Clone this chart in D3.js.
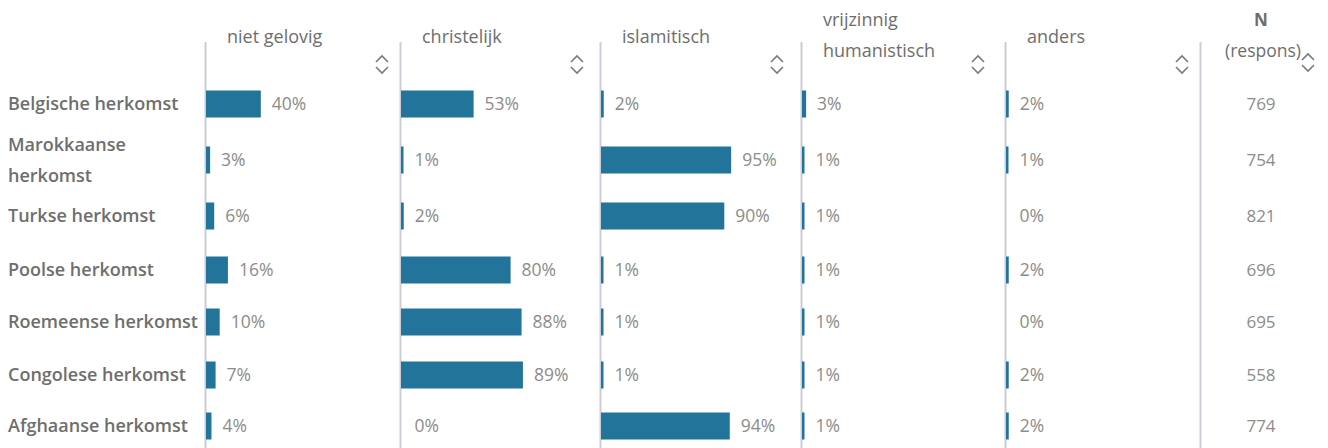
<!DOCTYPE html>
<html>
<head>
<meta charset="utf-8">
<script src="https://cdn.jsdelivr.net/npm/d3@7"></script>
<style>
    body { margin: 0; background: #fff; }
    svg text { font-family: "Open Sans", "Noto Sans", sans-serif; }
</style>
</head>
<body>
<div id="chart"></div>
<script>
// rows (herkomst)
var categories = ["Belgische herkomst", "Marokkaanse herkomst", "Turkse herkomst", "Poolse herkomst",
    "Roemeense herkomst", "Congolese herkomst", "Afghaanse herkomst"];

// columns (levensbeschouwing)
var columns = ["niet gelovig", "christelijk", "islamitisch", "vrijzinnig humanistisch", "anders"];

// percentages per column, same order as categories
var nietGelovig = [40, 3, 6, 16, 10, 7, 4];
var christelijk = [53, 1, 2, 80, 88, 89, 0];
var islamitisch = [2, 95, 90, 1, 1, 1, 94];
var vrijzinnig = [3, 1, 1, 1, 1, 1, 1];
var anders = [2, 1, 0, 2, 0, 2, 2];
var nRespons = [769, 754, 821, 696, 695, 558, 774];

var series = [nietGelovig, christelijk, islamitisch, vrijzinnig, anders];

var width = 1328, height = 448;
var barColor = "#23749a";
var lineColor = "#c9cdd5";
var labelColor = "#6e6e6e";
var valueColor = "#8c8c8c";

var svg = d3.select("#chart").append("svg")
    .attr("width", width)
    .attr("height", height);

// column positions (table cells are not perfectly even)
var colScale = d3.scaleOrdinal()
    .domain(columns.concat(["N"]))
    .range([205, 400, 600, 801, 1005, 1200]);

// row positions (Marokkaanse row is two lines high)
var y = d3.scaleOrdinal()
    .domain(categories)
    .range([104, 160, 216, 270, 322, 375, 426]);

// bar length
var x = d3.scaleLinear().domain([0, 100]).range([0, 137]);

var barHeight = 27;

// separator lines
svg.selectAll("line.sep")
    .data(colScale.domain())
    .enter()
    .append("line")
    .attr("class", "sep")
    .attr("x1", function (d) { return colScale(d) + 0.5; })
    .attr("x2", function (d) { return colScale(d) + 0.5; })
    .attr("y1", 42)
    .attr("y2", height)
    .attr("stroke", lineColor)
    .attr("stroke-width", 2);

// headers
var headerLines = {
    "niet gelovig": [["niet gelovig", 37]],
    "christelijk": [["christelijk", 37]],
    "islamitisch": [["islamitisch", 37]],
    "vrijzinnig humanistisch": [["vrijzinnig", 20], ["humanistisch", 51]],
    "anders": [["anders", 37]]
};

columns.forEach(function (c) {
    headerLines[c].forEach(function (l) {
        svg.append("text")
            .attr("x", colScale(c) + 22)
            .attr("y", l[1])
            .attr("dy", "0.35em")
            .attr("font-size", 18)
            .attr("fill", labelColor)
            .text(l[0]);
    });
});

svg.append("text")
    .attr("x", colScale("N") + 61)
    .attr("y", 20)
    .attr("dy", "0.35em")
    .attr("text-anchor", "middle")
    .attr("font-size", 17)
    .attr("font-weight", 700)
    .attr("fill", labelColor)
    .text("N");

svg.append("text")
    .attr("x", colScale("N") + 63)
    .attr("y", 51)
    .attr("dy", "0.35em")
    .attr("text-anchor", "middle")
    .attr("font-size", 17.5)
    .attr("fill", labelColor)
    .text("(respons)");

// sort icons
function sortIcon(cx, cy) {
    var g = svg.append("g").attr("transform", "translate(" + cx + "," + cy + ")");
    g.append("path")
        .attr("d", "M-6,-1 L0,-7 L6,-1")
        .attr("fill", "none")
        .attr("stroke", "#7a7a7a")
        .attr("stroke-width", 1.6);
    g.append("path")
        .attr("d", "M-6,4 L0,10 L6,4")
        .attr("fill", "none")
        .attr("stroke", "#7a7a7a")
        .attr("stroke-width", 1.6);
}

columns.forEach(function (c) {
    sortIcon(colScale(c) + 177, 63);
});
sortIcon(colScale("N") + 108, 61);

// row labels
categories.forEach(function (cat) {
    var t = svg.append("text")
        .attr("x", 8)
        .attr("font-size", 18)
        .attr("font-weight", 600)
        .attr("fill", labelColor);
    if (cat === "Marokkaanse herkomst") {
        t.append("tspan").attr("x", 8).attr("y", y(cat) - 15).attr("dy", "0.35em").text("Marokkaanse");
        t.append("tspan").attr("x", 8).attr("y", y(cat) + 16).attr("dy", "0.35em").text("herkomst");
    } else {
        t.attr("y", y(cat)).attr("dy", "0.35em").text(cat);
    }
});

// bars + labels per column
columns.forEach(function (c, ci) {
    var x0 = colScale(c) + 1;
    var data = series[ci].map(function (v, i) { return { cat: categories[i], value: v }; });
    var g = svg.append("g").attr("transform", "translate(" + x0 + ",0)");

    g.selectAll("rect")
        .data(data.filter(function (d) { return d.value > 0; }))
        .enter()
        .append("rect")
        .attr("x", 0)
        .attr("y", function (d) { return y(d.cat) - barHeight / 2; })
        .attr("width", function (d) { return Math.max(x(d.value), 2.5); })
        .attr("height", barHeight)
        .attr("fill", barColor);

    g.selectAll("text")
        .data(data)
        .enter()
        .append("text")
        .attr("x", function (d) { return Math.max(x(d.value), 2.5) + 11; })
        .attr("y", function (d) { return y(d.cat); })
        .attr("dy", "0.35em")
        .attr("font-size", 17.5)
        .attr("fill", valueColor)
        .text(function (d) { return d.value + "%"; });
});

// N column
svg.selectAll("text.n")
    .data(nRespons)
    .enter()
    .append("text")
    .attr("class", "n")
    .attr("x", colScale("N") + 61)
    .attr("y", function (d, i) { return y(categories[i]); })
    .attr("dy", "0.35em")
    .attr("text-anchor", "middle")
    .attr("font-size", 17)
    .attr("fill", valueColor)
    .text(function (d) { return d; });
</script>
</body>
</html>
